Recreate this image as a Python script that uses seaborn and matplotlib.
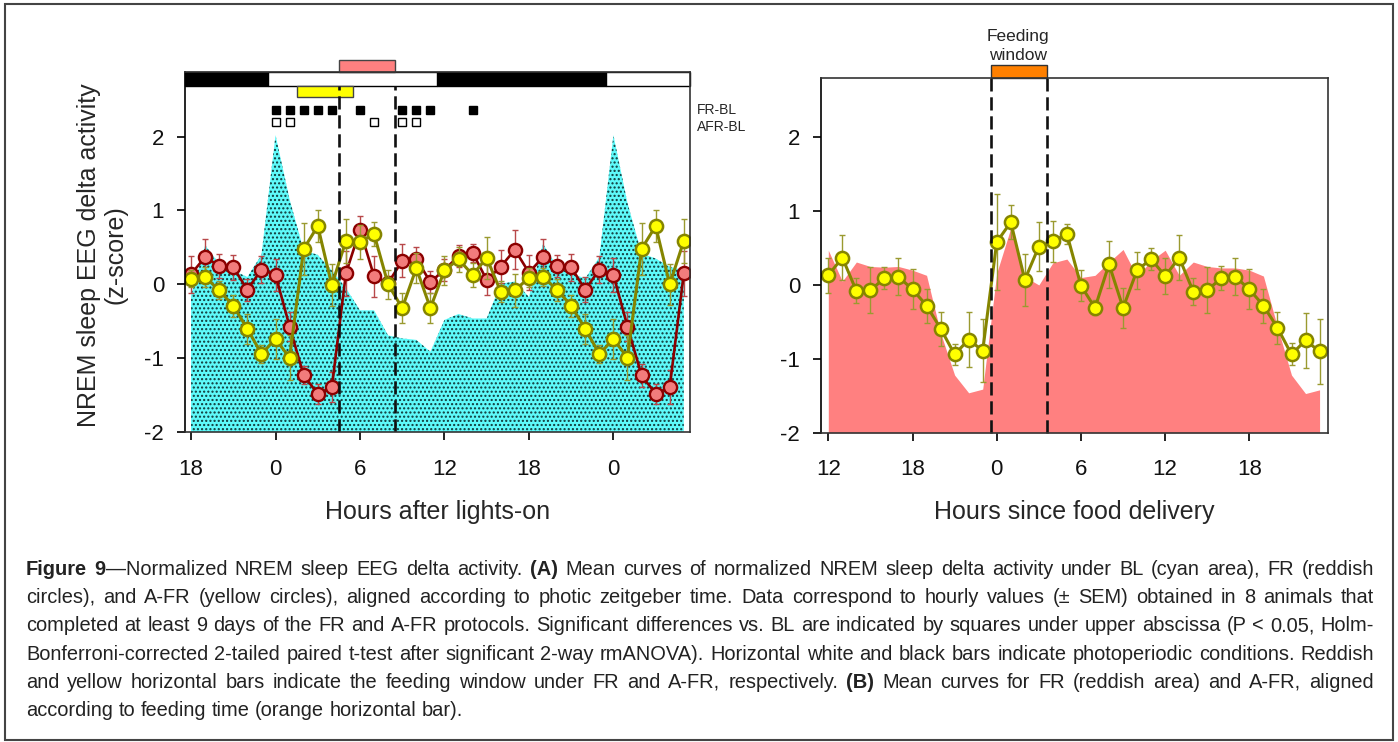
import numpy as np
import pandas as pd
import matplotlib
matplotlib.use("Agg")
import matplotlib.pyplot as plt
import seaborn as sns
from matplotlib.patches import Rectangle
from matplotlib import font_manager as fm

# ---------------- data ----------------
hours = list(range(36))
tick_pos = [0, 6, 12, 18, 24, 30]
left_tick_labels = ["18", "0", "6", "12", "18", "0"]
right_tick_labels = ["12", "18", "0", "6", "12", "18"]
y_ticks = [-2, -1, 0, 1, 2]

# Panel A: baseline (cyan area)
bl_area = [-0.15, 0.53, 0.28, 0.19, 0.10, 0.40, 2.02, 1.15, 0.46, 0.40, 0.19, -0.05,
           -0.35, -0.35, -0.69, -0.73, -0.75, -0.91, -0.48, -0.40, -0.46, -0.46, 0.01, 0.04,
           -0.17, 0.55, 0.24, 0.15, 0.08, 0.37, 2.02, 1.10, 0.42, 0.35, 0.24, 0.19]
# Panel A: FR (reddish circles)
fr_mean = [0.14, 0.37, 0.25, 0.23, -0.07, 0.20, 0.13, -0.57, -1.23, -1.48, -1.39, 0.15,
           0.74, 0.11, 0.02, 0.32, 0.35, 0.03, 0.20, 0.38, 0.43, 0.06, 0.24, 0.47,
           0.16, 0.37, 0.25, 0.23, -0.07, 0.20, 0.13, -0.57, -1.23, -1.48, -1.39, 0.15]
fr_sem = [0.25, 0.25, 0.16, 0.17, 0.15, 0.18, 0.22, 0.20, 0.12, 0.14, 0.20, 0.30,
          0.18, 0.28, 0.10, 0.22, 0.15, 0.15, 0.15, 0.15, 0.12, 0.20, 0.22, 0.26,
          0.24, 0.24, 0.15, 0.18, 0.17, 0.18, 0.23, 0.20, 0.16, 0.14, 0.23, 0.30]
# Panel A: A-FR (yellow circles)
afr_mean = [0.08, 0.10, -0.08, -0.29, -0.60, -0.94, -0.74, -0.99, 0.48, 0.79, -0.01, 0.59,
            0.58, 0.68, 0.00, -0.32, 0.22, -0.32, 0.19, 0.34, 0.13, 0.36, -0.10, -0.08,
            0.09, 0.10, -0.07, -0.29, -0.60, -0.94, -0.74, -0.99, 0.48, 0.79, 0.00, 0.59]
afr_sem = [0.12, 0.13, 0.12, 0.15, 0.20, 0.12, 0.27, 0.30, 0.35, 0.22, 0.28, 0.30,
           0.23, 0.16, 0.20, 0.20, 0.20, 0.20, 0.20, 0.17, 0.16, 0.28, 0.14, 0.22,
           0.13, 0.12, 0.15, 0.15, 0.20, 0.12, 0.27, 0.30, 0.35, 0.22, 0.28, 0.30]

# Panel B: FR aligned to food delivery (reddish area)
fr_food_area = [0.47, 0.05, 0.31, 0.25, 0.24, 0.25, 0.20, 0.13, -0.65, -1.22, -1.46, -1.41,
                0.16, 0.77, 0.11, 0.00, 0.30, 0.35, 0.10, 0.13, 0.31, 0.48, 0.11, 0.33,
                0.47, 0.13, 0.31, 0.25, 0.23, 0.23, 0.20, 0.12, -0.57, -1.22, -1.47, -1.42]
# Panel B: A-FR aligned to food delivery
afr_food_mean = [0.13, 0.37, -0.08, -0.07, 0.09, 0.11, -0.06, -0.28, -0.59, -0.94, -0.74, -0.89,
                 0.58, 0.85, 0.07, 0.52, 0.59, 0.69, -0.01, -0.31, 0.28, -0.31, 0.20, 0.35,
                 0.12, 0.37, -0.09, -0.07, 0.09, 0.11, -0.06, -0.28, -0.58, -0.94, -0.75, -0.90]
afr_food_sem = [0.24, 0.30, 0.17, 0.31, 0.15, 0.25, 0.27, 0.23, 0.23, 0.14, 0.37, 0.43,
                0.65, 0.23, 0.35, 0.33, 0.28, 0.14, 0.21, 0.10, 0.32, 0.27, 0.25, 0.15,
                0.24, 0.30, 0.18, 0.31, 0.16, 0.25, 0.27, 0.23, 0.22, 0.15, 0.37, 0.44]

# significance squares (hour index)
sig_fr_hours = [6, 7, 8, 9, 10, 12, 15, 16, 17, 20]
sig_afr_hours = [6, 7, 13, 15, 16]

# photoperiod / feeding windows (hour index)
dark_phases = [(-0.43, 5.5), (17.5, 29.5)]
light_phases = [(5.5, 17.5), (29.5, 35.44)]
fr_window = (10.5, 14.5)
afr_window = (7.5, 11.5)
food_window = (11.6, 15.6)

caption_lines = [
    "**Figure 9**\u2014Normalized NREM sleep EEG delta activity. **(A)** Mean curves of normalized NREM sleep delta activity under BL (cyan area), FR (reddish",
    "circles), and A-FR (yellow circles), aligned according to photic zeitgeber time. Data correspond to hourly values (\u00b1 SEM) obtained in 8 animals that",
    "completed at least 9 days of the FR and A-FR protocols. Significant differences vs. BL are indicated by squares under upper abscissa (P < 0.05, Holm-",
    "Bonferroni-corrected 2-tailed paired t-test after significant 2-way rmANOVA). Horizontal white and black bars indicate photoperiodic conditions. Reddish",
    "and yellow horizontal bars indicate the feeding window under FR and A-FR, respectively. **(B)** Mean curves for FR (reddish area) and A-FR, aligned",
    "according to feeding time (orange horizontal bar).",
]

# ---------------- styling ----------------
W, H = 1398, 742
sns.set_theme(style="white")
plt.rcParams["font.family"] = ["Liberation Sans", "DejaVu Sans"]
plt.rcParams["hatch.linewidth"] = 1.0

RED_FACE, RED_EDGE, RED_ERR = "#F27C7C", "#8B0000", "#B8484A"
YEL_FACE, YEL_EDGE, YEL_ERR = "#FFFF00", "#858500", "#9A9A30"
CYAN = "#5EFAFA"
SALMON = "#FF8080"

fig = plt.figure(figsize=(W / 100, H / 100), dpi=100)


def px_axes(l, t, r, b):
    return fig.add_axes([l / W, 1 - b / H, (r - l) / W, (b - t) / H])


axL = px_axes(185, 72, 690, 432.3)
axR = px_axes(821, 77.7, 1328, 432.7)

dfA = pd.DataFrame({"hour": hours, "BL": bl_area, "FR": fr_mean, "FRsem": fr_sem,
                    "AFR": afr_mean, "AFRsem": afr_sem})
dfB = pd.DataFrame({"hour": hours, "FR": fr_food_area, "AFR": afr_food_mean,
                    "AFRsem": afr_food_sem})

MS = 9.5

# ---- Panel A ----
axL.fill_between(dfA["hour"], -2, dfA["BL"], facecolor=CYAN, edgecolor="#103838",
                 hatch="....", linewidth=0, zorder=1)
axL.errorbar(dfA["hour"], dfA["FR"], yerr=dfA["FRsem"], fmt="none", ecolor=RED_ERR,
             elinewidth=1, capsize=2.5, capthick=1, zorder=3)
sns.lineplot(data=dfA, x="hour", y="FR", ax=axL, color=RED_EDGE, linewidth=1.9,
             marker="o", markersize=MS, markerfacecolor=RED_FACE,
             markeredgecolor=RED_EDGE, markeredgewidth=1.7, zorder=4, legend=False)
axL.errorbar(dfA["hour"], dfA["AFR"], yerr=dfA["AFRsem"], fmt="none", ecolor=YEL_ERR,
             elinewidth=1, capsize=2.5, capthick=1, zorder=5)
sns.lineplot(data=dfA, x="hour", y="AFR", ax=axL, color=YEL_EDGE, linewidth=2.2,
             marker="o", markersize=MS, markerfacecolor=YEL_FACE,
             markeredgecolor=YEL_EDGE, markeredgewidth=1.8, zorder=6, legend=False)

BAR_LO, BAR_HI = 2.683, 2.873
for x0, x1 in dark_phases:
    axL.add_patch(Rectangle((x0, BAR_LO), x1 - x0, BAR_HI - BAR_LO, facecolor="black",
                            edgecolor="black", lw=1, zorder=7, clip_on=False))
for x0, x1 in light_phases:
    axL.add_patch(Rectangle((x0, BAR_LO), x1 - x0, BAR_HI - BAR_LO, facecolor="white",
                            edgecolor="black", lw=1, zorder=7, clip_on=False))
axL.add_patch(Rectangle((afr_window[0], 2.534), afr_window[1] - afr_window[0], BAR_LO - 2.534,
                        facecolor="#FFFF00", edgecolor="#444444", lw=1, zorder=7))
axL.add_patch(Rectangle((fr_window[0], BAR_HI), fr_window[1] - fr_window[0], 0.165,
                        facecolor=SALMON, edgecolor="#444444", lw=1, zorder=7, clip_on=False))
for xv in fr_window:
    axL.plot([xv, xv], [-2, BAR_LO], color="#111111", lw=1.9, ls=(0, (5, 2.2)), zorder=8)

axL.plot(sig_fr_hours, [2.36] * len(sig_fr_hours), "s", ms=6.2, color="black", zorder=8)
axL.plot(sig_afr_hours, [2.20] * len(sig_afr_hours), "s", ms=6.2, mfc="white", mec="black",
         mew=1, zorder=8)

axL.set_xlim(-0.43, 35.44)
axL.set_ylim(-2, BAR_HI)

# ---- Panel B ----
axR.fill_between(dfB["hour"], -2, dfB["FR"], facecolor=SALMON, linewidth=0, zorder=1)
axR.errorbar(dfB["hour"], dfB["AFR"], yerr=dfB["AFRsem"], fmt="none", ecolor=YEL_ERR,
             elinewidth=1, capsize=2.5, capthick=1, zorder=5)
sns.lineplot(data=dfB, x="hour", y="AFR", ax=axR, color=YEL_EDGE, linewidth=2.2,
             marker="o", markersize=MS, markerfacecolor=YEL_FACE,
             markeredgecolor=YEL_EDGE, markeredgewidth=1.8, zorder=6, legend=False)
TOP_R = 2.805
for xv in food_window:
    axR.plot([xv, xv], [-2, TOP_R], color="#111111", lw=1.9, ls=(0, (5, 2.2)), zorder=8,
             clip_on=False)
axR.add_patch(Rectangle((food_window[0], TOP_R), food_window[1] - food_window[0], 0.17,
                        facecolor="#FF8000", edgecolor="#333333", lw=1, zorder=7, clip_on=False))
axR.set_xlim(-0.52, 35.6)
axR.set_ylim(-2, TOP_R)

for ax, labels in ((axL, left_tick_labels), (axR, right_tick_labels)):
    ax.set_xticks(tick_pos, labels)
    ax.set_yticks(y_ticks, [str(v) for v in y_ticks])
    ax.set_xlabel("")
    ax.set_ylabel("")
    ax.tick_params(axis="x", bottom=True, direction="out", length=6, width=1.3,
                   pad=13, labelsize=16, colors="#111111")
    ax.tick_params(axis="y", left=True, direction="out", length=6, width=1.3,
                   pad=9, labelsize=16, colors="#111111")
    for s in ax.spines.values():
        s.set_visible(True)
        s.set_color("#333333")
        s.set_linewidth(1.2)
        s.set_zorder(9)
    ax.spines["left"].set_color("#000000")
    ax.set_facecolor("white")

# ---- texts ----
def fx(px):
    return px / W


def fy(py):
    return 1 - py / H


fig.text(fx(437.5), fy(512), "Hours after lights-on", ha="center", va="center", fontsize=18)
fig.text(fx(1074.5), fy(512), "Hours since food delivery", ha="center", va="center", fontsize=18)
fig.text(fx(102), fy(255), "NREM sleep EEG delta activity\n(z-score)", rotation=90,
         ha="center", va="center", fontsize=18, linespacing=1.15, multialignment="center")
fig.text(fx(1018), fy(46), "Feeding\nwindow", ha="center", va="center", fontsize=12.5,
         linespacing=1.25)
fig.text(fx(697), fy(110), "FR-BL", ha="left", va="center", fontsize=10)
fig.text(fx(697), fy(127), "AFR-BL", ha="left", va="center", fontsize=10)

# outer frame
fig.add_artist(Rectangle((fx(5), fy(740)), (1393 - 5) / W, (740 - 4) / H,
                         transform=fig.transFigure, fill=False, edgecolor="#444444", lw=1.5))

# ---- justified caption ----
def has_font(name):
    try:
        fm.findfont(fm.FontProperties(family=name), fallback_to_default=False)
        return True
    except Exception:
        return False


cap_family = ["Liberation Sans Narrow"] if has_font("Liberation Sans Narrow") else ["Liberation Sans"]
cap_family = cap_family + ["DejaVu Sans"]


def parse(line):
    tokens, cur, buf, bold = [], [], "", False
    i = 0
    while i < len(line):
        if line.startswith("**", i):
            if buf:
                cur.append((buf, bold))
                buf = ""
            bold = not bold
            i += 2
            continue
        ch = line[i]
        if ch == " ":
            if buf:
                cur.append((buf, bold))
                buf = ""
            if cur:
                tokens.append(cur)
                cur = []
        else:
            buf += ch
        i += 1
    if buf:
        cur.append((buf, bold))
    if cur:
        tokens.append(cur)
    return tokens


renderer = fig.canvas.get_renderer()


def text_w(s, bold, fs):
    prop = fm.FontProperties(family=cap_family, size=fs, weight="bold" if bold else "normal")
    w, h, d = renderer.get_text_width_height_descent(s, prop, ismath=False)
    return w


def tok_w(tok, fs):
    return sum(text_w(s, b, fs) for s, b in tok)


X0, X1 = 26, 1374
base_fs = 16.0
last = parse(caption_lines[-1])
space = text_w("a a", False, base_fs) - text_w("aa", False, base_fs)
nat = sum(tok_w(t, base_fs) for t in last) + space * (len(last) - 1)
cap_fs = base_fs * 437.0 / nat
space = text_w("a a", False, cap_fs) - text_w("aa", False, cap_fs)

for li, line in enumerate(caption_lines):
    toks = parse(line)
    widths = [tok_w(t, cap_fs) for t in toks]
    if li < len(caption_lines) - 1 and len(toks) > 1:
        gap = (X1 - X0 - sum(widths)) / (len(toks) - 1)
    else:
        gap = space
    base_y = 575 + 28.2 * li
    x = X0
    for tok, w in zip(toks, widths):
        xx = x
        for s, b in tok:
            fig.text(fx(xx), fy(base_y), s, ha="left", va="baseline", fontsize=cap_fs,
                     family=cap_family, weight="bold" if b else "normal", color="#222222")
            xx += text_w(s, b, cap_fs)
        x += w + gap

fig.savefig("out.png", dpi=100)
